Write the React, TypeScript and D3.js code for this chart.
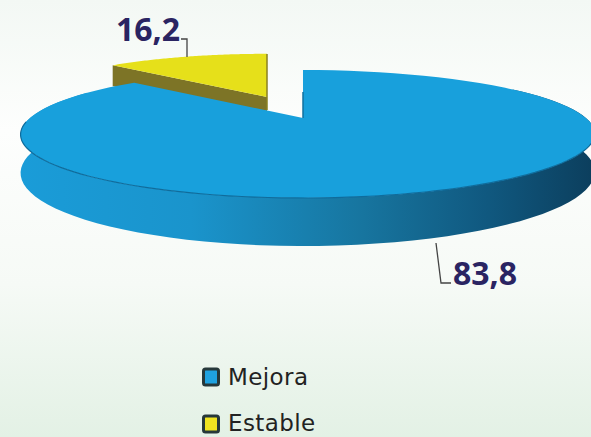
import React from 'react';
import * as d3 from 'd3';

const categories = ['Mejora', 'Estable'];
const values = [83.8, 16.2];
const valueLabels = ['83,8', '16,2'];
const colors = ['#18a0dc', '#e6e01a'];

const width = 591;
const height = 437;

// perspective of the tilted pie
const persp = 0.25;
const R = 278;
const Rk = 60;
// the slices in the picture are not drawn quite to scale
const rimSkew = (12 * Math.PI) / 180;

const project = (cx: number, cy: number, scale: number, shift = 0) => (a: number): [number, number] => {
  const w = 1 + persp * Math.cos(a);
  const s = Math.sin(a);
  return [cx + shift * s * s + (scale * R * s) / w, cy - (scale * Rk * Math.cos(a)) / w];
};
const depthAt = (a: number, d: number) => d / (1 + persp * Math.cos(a));

const arcPoints = (a0: number, a1: number, f: (a: number) => [number, number], n = 80) =>
  d3.range(n + 1).map(i => f(a0 + ((a1 - a0) * i) / n));

const App: React.FC = () => {
  const arcs = d3.pie<number>().sort(null)(values);
  const boundary = arcs[0].endAngle + rimSkew;

  const line = d3.line();
  const big = project(303, 118, 1, 5);
  const bigApex: [number, number] = [303, 118];
  const small = project(267, 97, 0.9);
  const smallApex: [number, number] = [267, 97];

  const bigFace = line([bigApex, ...arcPoints(0, boundary, big)])! + 'Z';
  const smallFace = line([smallApex, ...arcPoints(boundary, 2 * Math.PI, small)])! + 'Z';

  // outer wall of the big slice
  const wallTop = arcPoints(1, 5.2, big);
  const wallBottom = arcPoints(1, 5.2, a => {
    const p = big(a);
    return [p[0], p[1] + depthAt(a, 36)];
  });
  const wall = line([...wallTop, ...wallBottom.reverse()])! + 'Z';
  const frontRim = line(arcPoints(1.75, 4.65, big))!;

  // cut side of the yellow slice
  const sl = small(boundary);
  const smallWall = line([sl, smallApex, [smallApex[0], smallApex[1] + 14], [sl[0], sl[1] + 21]])! + 'Z';

  return (
    <svg width={width} height={height} style={{ position: 'fixed', left: 0, top: 0 }}>
      <defs>
        <linearGradient id="bg" x1="0" y1="0" x2="0" y2="1">
          <stop offset="0" stopColor="#f3f8f4" />
          <stop offset="0.3" stopColor="#fdfefd" />
          <stop offset="0.65" stopColor="#f6faf6" />
          <stop offset="1" stopColor="#e3f1e5" />
        </linearGradient>
        <linearGradient id="wall" gradientUnits="userSpaceOnUse" x1="20" y1="0" x2="591" y2="0">
          <stop offset="0" stopColor="#1a9cd8" />
          <stop offset="0.3" stopColor="#1a94cc" />
          <stop offset="0.6" stopColor="#17759f" />
          <stop offset="0.82" stopColor="#10587f" />
          <stop offset="1" stopColor="#0c3f5e" />
        </linearGradient>
      </defs>
      <rect width={width} height={height} fill="url(#bg)" />

      <path d={smallWall} fill="#7d7426" />
      <path d={smallFace} fill={colors[1]} />
      <line x1={267} y1={54} x2={267} y2={110} stroke="#8a8120" strokeWidth={1.5} />

      <path d={wall} fill="url(#wall)" />
      <path d={bigFace} fill={colors[0]} />
      <path d={frontRim} fill="none" stroke="#0f6c9c" strokeWidth={1.2} />
      <line x1={303} y1={92} x2={303} y2={118} stroke="#11709f" strokeWidth={1.5} />

      <path d="M181,39H187V57" fill="none" stroke="#444" strokeWidth={1.3} />
      <path d="M436,243L441,283H451" fill="none" stroke="#444" strokeWidth={1.3} />

      <g fontFamily="'Open Sans', sans-serif" fontWeight={700} fontSize={32} fill="#2a2462">
        <text x={116} y={41}>{valueLabels[1]}</text>
        <text x={453} y={285}>{valueLabels[0]}</text>
      </g>

      {categories.map((c, i) => (
        <g key={c}>
          <rect x={203.5} y={369 + i * 47} width={15} height={16} rx={2} fill={i === 1 ? '#f0e420' : '#1fa2e0'} stroke="#26383a" strokeWidth={3} />
          <text x={228} y={385 + i * 46} fontFamily="'DejaVu Sans', sans-serif" fontSize={23} letterSpacing={0.4} fill="#222">{c}</text>
        </g>
      ))}
    </svg>
  );
};

export default App;
